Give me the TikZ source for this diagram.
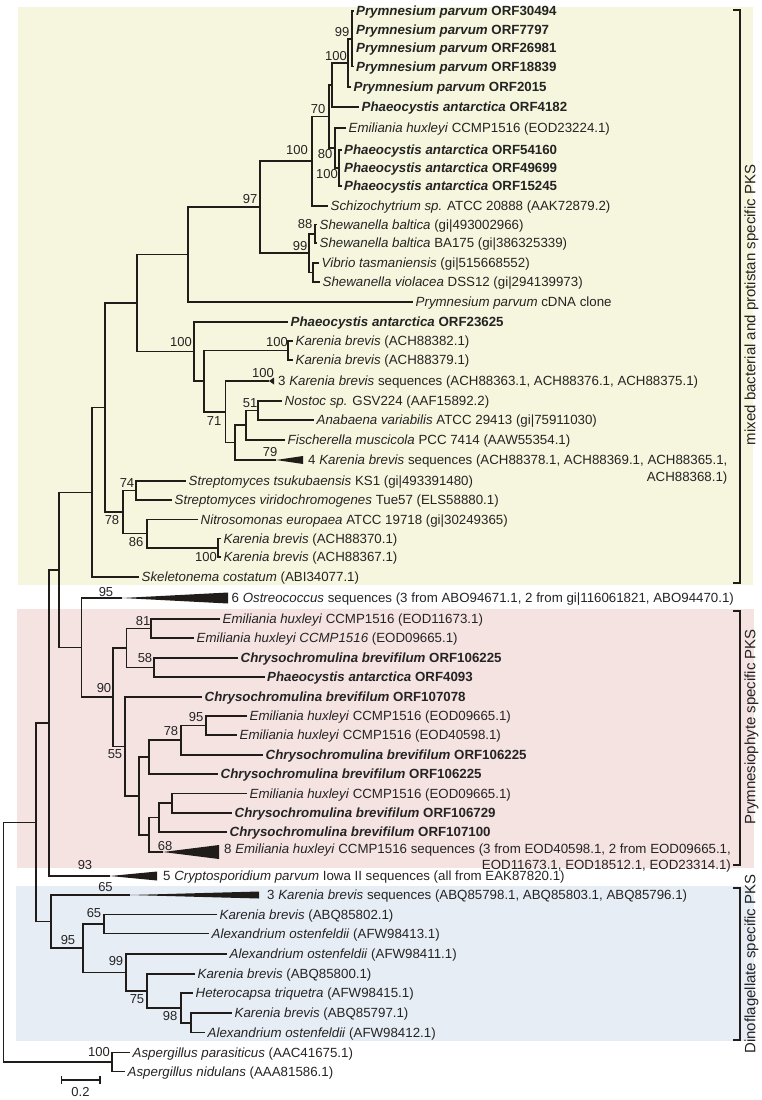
\documentclass[tikz,border=0pt]{standalone}
\usepackage{fontspec}
\setmainfont{Liberation Sans}
\usetikzlibrary{calc}
\definecolor{ybg}{RGB}{246,245,221}
\definecolor{pbg}{RGB}{245,227,226}
\definecolor{bbg}{RGB}{231,237,245}
\definecolor{ln}{RGB}{32,28,26}
\definecolor{tx}{RGB}{36,36,36}
\tikzset{
  br/.style={draw=ln, line width=1.55pt},
  brk/.style={draw=ln, line width=1.3pt},
  leaf/.style={anchor=west, inner sep=0pt, inner xsep=2.5pt, text height=10pt, text depth=0.7pt, font=\fontsize{13.3}{15}\selectfont, text=tx},
  bs/.style={inner sep=0pt, text height=9.3pt, text depth=0pt, font=\fontsize{13}{15}\selectfont, text=tx},
  rot/.style={rotate=90, inner sep=0pt, font=\fontsize{15}{17}\selectfont, text=tx},
  wedge/.style={fill=ln, draw=none}
}
\newcommand\mkclade[4]{%
  \coordinate (tmpA) at ($(#3)!0.5!(#4)$);
  \coordinate (tmpX) at (#2,0);
  \coordinate (#1) at (tmpA -| tmpX);
  \draw[br] (#3) -| (#1) |- (#4);}
\begin{document}
\begin{tikzpicture}[x=1pt,y=-1pt]
\useasboundingbox (0,0) rectangle (762,1100);
% backgrounds
\fill[ybg] (18,7) rectangle (753,585);
\fill[pbg] (17,609) rectangle (754,868);
\fill[bbg] (16,886) rectangle (754,1041);
% leaves
\node[leaf] (L1) at (353.5,11) {\textbf{\textit{Prymnesium parvum} ORF30494}};
\node[leaf] (L2) at (353.5,29.5) {\textbf{\textit{Prymnesium parvum} ORF7797}};
\node[leaf] (L3) at (353.5,48) {\textbf{\textit{Prymnesium parvum} ORF26981}};
\node[leaf] (L4) at (353.5,66.5) {\textbf{\textit{Prymnesium parvum} ORF18839}};
\node[leaf] (L5) at (351,87) {\textbf{\textit{Prymnesium parvum} ORF2015}};
\node[leaf] (L6) at (359,107) {\textbf{\textit{Phaeocystis antarctica} ORF4182}};
\node[leaf] (L7) at (346,128) {\textit{Emiliania huxleyi} CCMP1516 (EOD23224.1)};
\node[leaf] (L8) at (341.5,150) {\textbf{\textit{Phaeocystis antarctica} ORF54160}};
\node[leaf] (L9) at (341.5,168) {\textbf{\textit{Phaeocystis antarctica} ORF49699}};
\node[leaf] (L10) at (341.5,186) {\textbf{\textit{Phaeocystis antarctica} ORF15245}};
\node[leaf] (L11) at (328,206) {\textit{Schizochytrium sp.} ATCC 20888 (AAK72879.2)};
\node[leaf] (L12) at (317,224.5) {\textit{Shewanella baltica} (gi|493002966)};
\node[leaf] (L13) at (317,243) {\textit{Shewanella baltica} BA175 (gi|386325339)};
\node[leaf] (L14) at (319,263) {\textit{Vibrio tasmaniensis} (gi|515668552)};
\node[leaf] (L15) at (320,282) {\textit{Shewanella violacea} DSS12 (gi|294139973)};
\node[leaf] (L16) at (413,302) {\textit{Prymnesium parvum} cDNA clone};
\node[leaf] (L17) at (288,322) {\textbf{\textit{Phaeocystis antarctica} ORF23625}};
\node[leaf] (L18) at (293,341) {\textit{Karenia brevis} (ACH88382.1)};
\node[leaf] (L19) at (293,360) {\textit{Karenia brevis} (ACH88379.1)};
\coordinate (W3K) at (269,381);
\fill[wedge] (W3K) -- (274,377.5) -- (274,384.5) -- cycle;
\node[leaf] (T3K) at (275.5,381) {3 \textit{Karenia brevis} sequences (ACH88363.1, ACH88376.1, ACH88375.1)};
\node[leaf] (L20) at (282,401) {\textit{Nostoc sp.} GSV224 (AAF15892.2)};
\node[leaf] (L21) at (314,420) {\textit{Anabaena variabilis} ATCC 29413 (gi|75911030)};
\node[leaf] (L22) at (285,440) {\textit{Fischerella muscicola} PCC 7414 (AAW55354.1)};
\coordinate (W4K) at (276,460);
\fill[wedge] (W4K) -- (303,456) -- (303,464) -- cycle;
\node[leaf] (T4K) at (305.5,459.5) {4 \textit{Karenia brevis} sequences (ACH88378.1, ACH88369.1, ACH88365.1,};
\node[leaf, anchor=base east] (T4Kb) at ([yshift=-17pt]T4K.base east) {ACH88368.1)};
\node[leaf] (L23) at (186,481) {\textit{Streptomyces tsukubaensis} KS1 (gi|493391480)};
\node[leaf] (L24) at (172,500) {\textit{Streptomyces viridochromogenes} Tue57 (ELS58880.1)};
\node[leaf] (L25) at (198,519.5) {\textit{Nitrosomonas europaea} ATCC 19718 (gi|30249365)};
\node[leaf] (L26) at (221,538.5) {\textit{Karenia brevis} (ACH88370.1)};
\node[leaf] (L27) at (221,557) {\textit{Karenia brevis} (ACH88367.1)};
\node[leaf] (L28) at (139,577) {\textit{Skeletonema costatum} (ABI34077.1)};
\coordinate (WOst) at (122,598);
\fill[wedge] (WOst) -- (228,592.5) -- (228,603.5) -- cycle;
\node[leaf] (TOst) at (229,598) {6 \textit{Ostreococcus} sequences (3 from ABO94671.1, 2 from gi|116061821, ABO94470.1)};
\node[leaf] (L29) at (220,619) {\textit{Emiliania huxleyi} CCMP1516 (EOD11673.1)};
\node[leaf] (L30) at (194,638) {\textit{Emiliania huxleyi CCMP1516} (EOD09665.1)};
\node[leaf] (L31) at (238,658) {\textbf{\textit{Chrysochromulina brevifilum} ORF106225}};
\node[leaf] (L32) at (264.5,677) {\textbf{\textit{Phaeocystis antarctica} ORF4093}};
\node[leaf] (L33) at (202,697) {\textbf{\textit{Chrysochromulina brevifilum} ORF107078}};
\node[leaf] (L34) at (247,716) {\textit{Emiliania huxleyi} CCMP1516 (EOD09665.1)};
\node[leaf] (L35) at (237,735) {\textit{Emiliania huxleyi} CCMP1516 (EOD40598.1)};
\node[leaf] (L36) at (263,755) {\textbf{\textit{Chrysochromulina brevifilum} ORF106225}};
\node[leaf] (L37) at (218,774) {\textbf{\textit{Chrysochromulina brevifilum} ORF106225}};
\node[leaf] (L38) at (247,793.5) {\textit{Emiliania huxleyi} CCMP1516 (EOD09665.1)};
\node[leaf] (L39) at (232,813) {\textbf{\textit{Chrysochromulina brevifilum} ORF106729}};
\node[leaf] (L40) at (227,832) {\textbf{\textit{Chrysochromulina brevifilum} ORF107100}};
\coordinate (W8E) at (163,852);
\fill[wedge] (W8E) -- (219,845) -- (219,859) -- cycle;
\node[leaf] (T8E) at (221.5,848.5) {8 \textit{Emiliania huxleyi} CCMP1516 sequences (3 from EOD40598.1, 2 from EOD09665.1,};
\node[leaf, anchor=base east] (T8Eb) at ([yshift=-16pt]T8E.base east) {EOD11673.1, EOD18512.1, EOD23314.1)};
\coordinate (WCry) at (110,876);
\fill[wedge] (WCry) -- (157,871.5) -- (157,880.5) -- cycle;
\node[leaf] (TCry) at (160.5,876) {5 \textit{Cryptosporidium parvum} Iowa II sequences (all from EAK87820.1)};
\coordinate (WK3) at (130,895);
\fill[wedge] (WK3) -- (259,891.5) -- (259,898.5) -- cycle;
\node[leaf] (TK3) at (264.5,895) {3 \textit{Karenia brevis} sequences (ABQ85798.1, ABQ85803.1, ABQ85796.1)};
\node[leaf] (L41) at (217,914.5) {\textit{Karenia brevis} (ABQ85802.1)};
\node[leaf] (L42) at (209,933.5) {\textit{Alexandrium ostenfeldii} (AFW98413.1)};
\node[leaf] (L43) at (227,954) {\textit{Alexandrium ostenfeldii} (AFW98411.1)};
\node[leaf] (L44) at (195,974) {\textit{Karenia brevis} (ABQ85800.1)};
\node[leaf] (L45) at (193,993) {\textit{Heterocapsa triquetra} (AFW98415.1)};
\node[leaf] (L46) at (232,1013) {\textit{Karenia brevis} (ABQ85797.1)};
\node[leaf] (L47) at (205,1032.5) {\textit{Alexandrium ostenfeldii} (AFW98412.1)};
\node[leaf] (L48) at (130,1052.5) {\textit{Aspergillus parasiticus} (AAC41675.1)};
\node[leaf] (L49) at (125,1071.5) {\textit{Aspergillus nidulans} (AAA81586.1)};
% internal nodes
\mkclade{P4}{352}{L1.west}{L4.west}
\mkclade{N99a}{348}{P4}{L5.west}
\mkclade{N100a}{332}{N99a}{L6.west}
\mkclade{T3}{339}{L8.west}{L10.west}
\mkclade{N80}{335}{L7.west}{T3}
\mkclade{N70}{329}{N100a}{N80}
\mkclade{N100b}{312}{N70}{L11.west}
\mkclade{N88}{315}{L12.west}{L13.west}
\mkclade{NVS}{313}{L14.west}{L15.west}
\mkclade{N99s}{309}{N88}{NVS}
\mkclade{N97}{260}{N100b}{N99s}
\mkclade{NF}{188}{N97}{L16.west}
\mkclade{NKp}{288}{L18.west}{L19.west}
\mkclade{NN}{258}{L20.west}{L21.west}
\mkclade{NM}{246}{NN}{L22.west}
\mkclade{NL}{235}{NM}{W4K}
\mkclade{NK}{225.5}{W3K}{NL}
\mkclade{NI}{204}{NKp}{NK}
\mkclade{NH}{194}{L17.west}{NI}
\mkclade{NG}{137}{NF}{NH}
\mkclade{N74}{136}{L23.west}{L24.west}
\mkclade{NKq}{218}{L26.west}{L27.west}
\mkclade{N86}{147}{L25.west}{NKq}
\mkclade{N78}{123}{N74}{N86}
\mkclade{NE}{105}{NG}{N78}
\mkclade{ND}{92}{NE}{L28.west}
\mkclade{N81}{151}{L29.west}{L30.west}
\mkclade{N58}{154}{L31.west}{L32.west}
\mkclade{NQ}{126.5}{N81}{N58}
\mkclade{N95b}{206}{L34.west}{L35.west}
\mkclade{N78b}{181}{N95b}{L36.west}
\mkclade{N149a}{149}{N78b}{L37.west}
\mkclade{N172}{172}{L38.west}{L39.west}
\mkclade{N159}{159}{N172}{L40.west}
\mkclade{N149b}{149}{N159}{W8E}
\mkclade{N139}{139}{N149a}{N149b}
\mkclade{N55}{125}{L33.west}{N139}
\mkclade{N90}{113}{NQ}{N55}
\mkclade{NP}{81.5}{WOst}{N90}
\mkclade{NC}{59}{ND}{NP}
\mkclade{NB}{49}{NC}{WCry}
\mkclade{N65}{104}{L41.west}{L42.west}
\mkclade{N191}{191}{L46.west}{L47.west}
\mkclade{N98}{181}{L45.west}{N191}
\mkclade{N75}{147}{L44.west}{N98}
\mkclade{N99d}{126}{L43.west}{N75}
\mkclade{NS}{83}{N65}{N99d}
\mkclade{NR}{51}{WK3}{NS}
\mkclade{NA}{36}{NB}{NR}
\mkclade{NAsp}{112}{L48.west}{L49.west}
\mkclade{root}{3.5}{NA}{NAsp}
% bootstrap values
\node[bs] (b1) at (342,32) {99};
\node[bs] (b2) at (336,56) {100};
\node[bs] (b3) at (318,109) {70};
\node[bs] (b4) at (297,150) {100};
\node[bs] (b5) at (325,154) {80};
\node[bs] (b6) at (327,174) {100};
\node[bs] (b7) at (250,199) {97};
\node[bs] (b8) at (305,224) {88};
\node[bs] (b9) at (300,246) {99};
\node[bs] (b10) at (181,342) {100};
\node[bs] (b11) at (277,342) {100};
\node[bs] (b12) at (263,373) {100};
\node[bs] (b13) at (250,403) {51};
\node[bs] (b14) at (214,421) {71};
\node[bs] (b15) at (270,452) {79};
\node[bs] (b16) at (127,483) {74};
\node[bs] (b17) at (112,520) {78};
\node[bs] (b18) at (136,542) {86};
\node[bs] (b19) at (206,557) {100};
\node[bs] (b20) at (106,592) {95};
\node[bs] (b21) at (143,621) {81};
\node[bs] (b22) at (145,658) {58};
\node[bs] (b23) at (104,688) {90};
\node[bs] (b24) at (196,717) {95};
\node[bs] (b25) at (171,731) {78};
\node[bs] (b26) at (115,754) {55};
\node[bs] (b27) at (165,846) {68};
\node[bs] (b28) at (85,865) {93};
\node[bs] (b29) at (105.5,887) {65};
\node[bs] (b30) at (94,913) {65};
\node[bs] (b31) at (68,940) {95};
\node[bs] (b32) at (116,961) {99};
\node[bs] (b33) at (137,999) {75};
\node[bs] (b34) at (170,1016) {98};
\node[bs] (b35) at (99,1052) {100};
% brackets and group labels
\draw[brk] (733,10) -- (740,10) -- (740,583) -- (733,583);
\draw[brk] (733,611) -- (740,611) -- (740,865) -- (733,865);
\draw[brk] (733,888) -- (740,888) -- (740,1040) -- (733,1040);
\node[rot] (g1) at (751.5,305) {mixed bacterial and protistan specific PKS};
\node[rot] (g2) at (751.5,727) {Prymnesiophyte specific PKS};
\node[rot] (g3) at (751.5,964) {Dinoflagellate specific PKS};
% scale bar
\coordinate (sb1) at (61.5,1080);
\coordinate (sb2) at (100,1080);
\draw[brk] (sb1) -- (sb2);
\draw[brk] ([yshift=4pt]sb1) -- ([yshift=-4pt]sb1);
\draw[brk] ([yshift=4pt]sb2) -- ([yshift=-4pt]sb2);
\node[bs] (sbl) at (80.5,1092) {0.2};
\end{tikzpicture}
\end{document}
